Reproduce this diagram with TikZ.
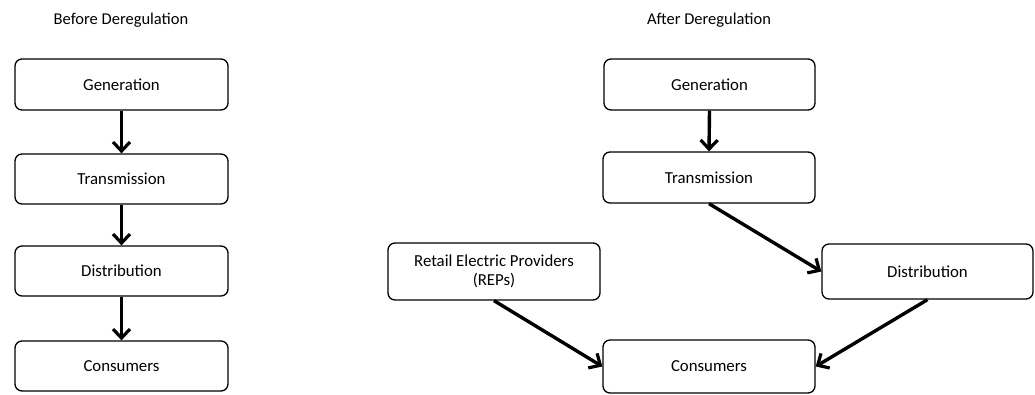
\documentclass[tikz,border=0pt]{standalone}
\usepackage{fontspec}
\setmainfont{Carlito}
\usetikzlibrary{arrows.meta}
\begin{document}
\begin{tikzpicture}[x=1pt,y=-1pt,
  box/.style={draw, line width=1.3pt, rounded corners=7pt, font=\fontsize{16.8}{19}\selectfont, align=center, inner sep=0pt},
  conn/.style={line width=3.4pt, -{Straight Barb[length=9pt,width=17pt,line width=3.2pt]}},
  ttl/.style={font=\fontsize{16.5}{19}\selectfont}]
\useasboundingbox (0,0) rectangle (1035,394);
% left column
\node[ttl] (t1) at (121,20) {Before Deregulation};
\node[box, minimum width=213pt, minimum height=51pt] (g1) at (121.5,84.5) {Generation};
\node[box, minimum width=213pt, minimum height=50pt] (tr1) at (121.5,179) {Transmission};
\node[box, minimum width=213pt, minimum height=50pt] (d1) at (121.5,271) {Distribution};
\node[box, minimum width=213pt, minimum height=50pt] (c1) at (121.5,366) {Consumers};
\draw[conn] (g1.south) -- (tr1.north);
\draw[conn] (tr1.south) -- (d1.north);
\draw[conn] (d1.south) -- (c1.north);
% right column
\node[ttl] (t2) at (709,20) {After Deregulation};
\node[box, minimum width=211pt, minimum height=51pt] (g2) at (709.5,84.5) {Generation};
\node[box, minimum width=212pt, minimum height=51pt] (tr2) at (709,177.5) {Transmission};
\node[box, minimum width=211pt, minimum height=55pt] (d2) at (927.5,271.5) {Distribution};
\node[box, minimum width=212pt, minimum height=57pt] (r2) at (494,271.5) {Retail Electric Providers\\(REPs)};
\node[box, minimum width=212pt, minimum height=53pt] (c2) at (709,366.5) {Consumers};
\draw[conn] (g2.south) -- (tr2.north);
\draw[conn] (tr2.south) -- (d2.west);
\draw[conn] (r2.south) -- (c2.west);
\draw[conn] (d2.south) -- (c2.east);
\end{tikzpicture}
\end{document}
